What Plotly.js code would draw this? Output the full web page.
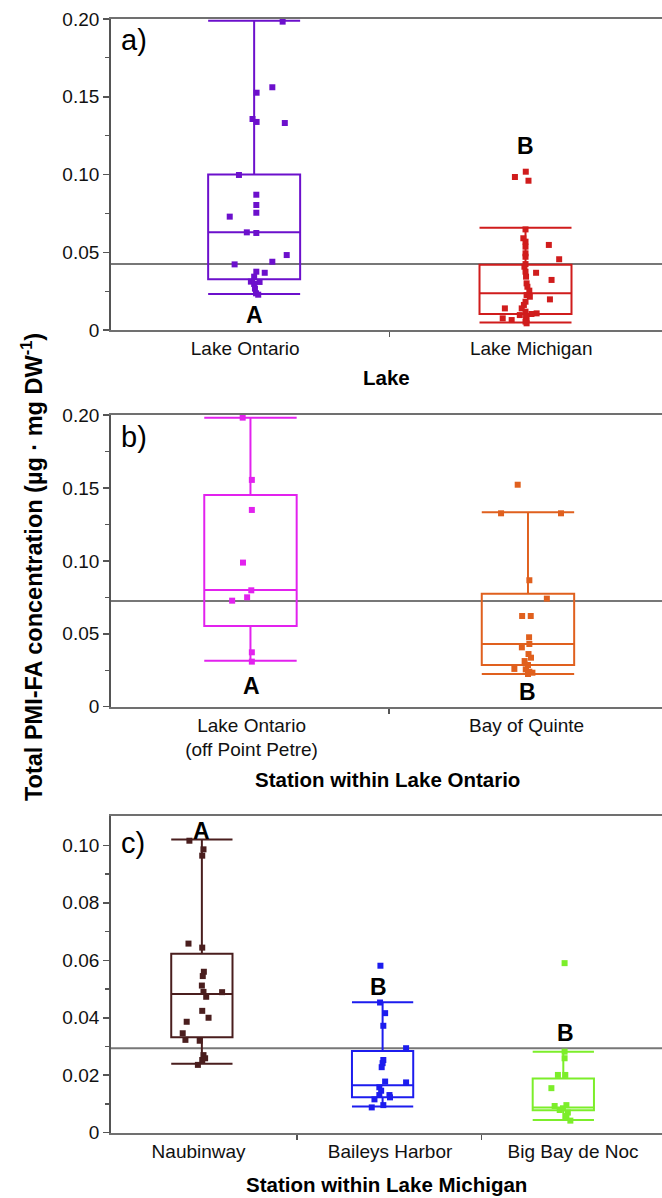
<!DOCTYPE html>
<html><head><meta charset="utf-8">
<script src="https://cdn.plot.ly/plotly-3.0.1.min.js"></script>
<style>html,body{margin:0;padding:0;background:#fff}#chart{width:662px;height:1198px}</style>
</head><body><div id="chart"></div>
<script>
// ---------------- DATA ----------------
// Panel a: by lake
const lakeCategories = ['Lake Ontario', 'Lake Michigan'];
const lakeOntarioValues = [0.1983,0.1561,0.1526,0.1357,0.1338,0.1331,0.0997,0.0870,0.0804,0.0754,0.0729,0.0628,0.0624,0.0482,0.0439,0.0422,0.0375,0.0368,0.0343,0.0311,0.0309,0.0296,0.0266,0.0236,0.0227];
const lakeOntarioJitter = [0.105,0.067,0.009,-0.006,0.009,0.113,-0.056,0.008,0.008,0.008,-0.090,-0.027,0.008,0.120,0.067,-0.072,0.008,0.039,0,-0.012,0.020,0,0.003,0.007,0.015];
const lakeMichiganValues = [0.0984,0.1018,0.0960,0.0647,0.0590,0.0568,0.0547,0.0536,0.0493,0.0471,0.0455,0.0424,0.0407,0.0375,0.0368,0.0343,0.0322,0.0300,0.0278,0.0253,0.0225,0.0214,0.0197,0.0182,0.0161,0.0139,0.0139,0.0118,0.0107,0.0103,0.0096,0.0086,0.0075,0.0064,0.0064,0.0054,0.0043];
const lakeMichiganJitter = [-0.039,0.001,0.011,0,-0.008,0,0.086,0,0,0,0.124,0,-0.004,0,0.039,0.002,0.096,0.004,0.007,0.014,0.004,0.016,0.090,0,-0.006,-0.076,-0.014,0,0.041,0.022,-0.021,0.002,-0.084,-0.051,0.004,0,0.004];
// box stats: [lower whisker, Q1, median, Q3, upper whisker]
const lakeBoxStats = [[0.0232,0.0326,0.0628,0.1000,0.1989],[0.0049,0.0103,0.0236,0.0420,0.0658]];
const lakeLetters = ['A','B'];
const lakeLetterY = [0.0098,0.1183];
const lakeMeanLine = 0.0424;

// Panel b: stations within Lake Ontario
const ontarioStations = ['Lake Ontario<br>(off Point Petre)', 'Bay of Quinte'];
const pointPetreValues = [0.1982,0.1555,0.1349,0.0988,0.0798,0.0750,0.0727,0.0373,0.0309];
const pointPetreJitter = [-0.028,0.005,0.005,-0.027,0.003,-0.012,-0.066,0.005,0.005];
const quinteValues = [0.1522,0.1326,0.1326,0.0867,0.0741,0.0622,0.0622,0.0476,0.0430,0.0407,0.0361,0.0336,0.0313,0.0286,0.0259,0.0256,0.0240,0.0233,0.0224];
const quinteJitter = [-0.037,-0.097,0.119,0.005,0.068,-0.021,0.010,0.004,0.005,-0.022,0.002,0.011,-0.012,0,-0.049,-0.008,0.005,0.016,0];
const ontarioBoxStats = [[0.0315,0.0553,0.0800,0.1452,0.1982],[0.0224,0.0286,0.0430,0.0775,0.1333]];
const ontarioLetters = ['A','B'];
const ontarioLetterY = [0.0142,0.0103];
const ontarioMeanLine = 0.0725;

// Panel c: stations within Lake Michigan
const michiganStations = ['Naubinway', 'Baileys Harbor', 'Big Bay de Noc'];
const naubinwayValues = [0.1016,0.0986,0.0964,0.0658,0.0644,0.0560,0.0545,0.0512,0.0490,0.0489,0.0473,0.0424,0.0400,0.0386,0.0346,0.0323,0.0320,0.0270,0.0259,0.0253,0.0236];
const naubinwayJitter = [-0.069,0.009,0.002,-0.074,0.002,0.011,0.005,0,0.009,0.112,0.024,0.002,0.037,-0.084,-0.106,-0.091,-0.012,0.009,0.018,0.002,-0.022];
const baileysValues = [0.0581,0.0453,0.0416,0.0372,0.0294,0.0253,0.0242,0.0228,0.0178,0.0175,0.0158,0.0146,0.0131,0.0131,0.0116,0.0123,0.0096,0.0088];
const baileysJitter = [-0.012,-0.014,0.014,0.004,0.130,0.004,0,-0.005,0.014,0.130,-0.018,-0.008,0.038,-0.018,-0.045,0.041,0.004,-0.060];
const bigBayValues = [0.0590,0.0282,0.0259,0.0201,0.0201,0.0155,0.0093,0.0096,0.0085,0.0079,0.0070,0.0058,0.0042];
const bigBayJitter = [0.007,0.007,0.007,-0.030,0.011,-0.066,-0.048,0.017,-0.002,-0.020,0.025,0.017,0.039];
const michiganBoxStats = [[0.0240,0.0332,0.0483,0.0623,0.1020],[0.0091,0.0123,0.0165,0.0284,0.0454],[0.0044,0.0078,0.0088,0.0189,0.0282]];
const michiganLetters = ['A','B','B'];
const michiganLetterY = [0.1051,0.0508,0.0348];
const michiganMeanLine = 0.0294;

// ---------------- STYLE ----------------
const W = 662, H = 1198;
const FONT = 'Liberation Sans, Arial, sans-serif';
const px = v => v / W;
const py = v => 1 - v / H;
const colA = ['#6c10cc', '#d01c1c'];
const colB = ['#e222ee', '#e0601e'];
const colC = ['#4a1e1e', '#1c1cee', '#7cee2a'];

function boxTrace(pos, s, color, width, xa, ya) {
  return {type:'box', orientation:'v', x:[pos], lowerfence:[s[0]], q1:[s[1]], median:[s[2]], q3:[s[3]], upperfence:[s[4]],
    width:width, whiskerwidth:1, boxpoints:false, line:{color:color, width:2}, fillcolor:'rgba(0,0,0,0)',
    xaxis:xa, yaxis:ya, hoverinfo:'skip', showlegend:false};
}
function pts(pos, vals, jit, color, xa, ya) {
  return {type:'scatter', mode:'markers', x:vals.map((v,i)=>pos + jit[i]), y:vals,
    marker:{symbol:'square', size:6, color:color, line:{width:0}}, xaxis:xa, yaxis:ya, hoverinfo:'skip', showlegend:false, cliponaxis:false};
}

const traces = [];
const seriesA = [lakeOntarioValues, lakeMichiganValues], jitA = [lakeOntarioJitter, lakeMichiganJitter];
lakeBoxStats.forEach((s,i)=>{ traces.push(boxTrace(i, s, colA[i], 0.339, 'x', 'y')); traces.push(pts(i, seriesA[i], jitA[i], colA[i], 'x', 'y')); });
const seriesB = [pointPetreValues, quinteValues], jitB = [pointPetreJitter, quinteJitter];
ontarioBoxStats.forEach((s,i)=>{ traces.push(boxTrace(i, s, colB[i], 0.333, 'x2', 'y2')); traces.push(pts(i, seriesB[i], jitB[i], colB[i], 'x2', 'y2')); });
const seriesC = [naubinwayValues, baileysValues, bigBayValues], jitC = [naubinwayJitter, baileysJitter, bigBayJitter];
michiganBoxStats.forEach((s,i)=>{ traces.push(boxTrace(i, s, colC[i], 0.339, 'x3', 'y3')); traces.push(pts(i, seriesC[i], jitC[i], colC[i], 'x3', 'y3')); });

const xDomain = [110.6 / W, 1];
function xAxis(anchor, range, labelVals, labels, minorVals) {
  return {anchor:anchor, domain:xDomain, range:range, showline:true, mirror:true, linecolor:'#707070', linewidth:2,
    ticks:'', tickvals:labelVals, ticktext:labels, tickfont:{family:FONT, size:19, color:'#111'},
    minor:{tickmode:'array', tickvals:minorVals, ticks:'outside', ticklen:5, tickwidth:1.5, tickcolor:'#555'},
    showgrid:false, zeroline:false, fixedrange:true};
}
function yAxis(anchor, domain, range, tv, tt, minorVals) {
  return {anchor:anchor, domain:domain, range:range, showline:true, linecolor:'#555', linewidth:1.5,
    ticks:'outside', ticklen:6, tickwidth:1.5, tickcolor:'#555', tickvals:tv, ticktext:tt,
    tickfont:{family:FONT, size:19, color:'#111'},
    minor:{tickmode:'array', tickvals:minorVals, ticks:'outside', ticklen:4, tickwidth:1.2, tickcolor:'#555'},
    showgrid:false, zeroline:false, fixedrange:true};
}

const annotations = [];
function letterAnn(xref, yref, xs, ys, texts) {
  texts.forEach((t,i)=>annotations.push({xref:xref, yref:yref, x:xs[i], y:ys[i], text:t, showarrow:false,
    font:{family:FONT, size:23, color:'#000', weight:'bold'}, xanchor:'center', yanchor:'middle'}));
}
letterAnn('x', 'y', [0, 1], lakeLetterY, lakeLetters);
letterAnn('x2', 'y2', [0.005, 1], ontarioLetterY, ontarioLetters);
letterAnn('x3', 'y3', [0, 0.98, 2.01], michiganLetterY, michiganLetters);

function paperText(text, x, y, size, bold, extra) {
  annotations.push(Object.assign({xref:'paper', yref:'paper', x:x, y:y, text:text, showarrow:false,
    font:{family:FONT, size:size, color:'#000', weight: bold ? 'bold' : 'normal'}, xanchor:'center', yanchor:'middle'}, extra||{}));
}
paperText('a)', px(119), py(40.5), 29, false, {xanchor:'left'});
paperText('b)', px(119), py(436.7), 29, false, {xanchor:'left'});
paperText('c)', px(119), py(842.5), 29, false, {xanchor:'left'});
paperText('Lake', px(386.7), py(377.5), 20.5, true);
paperText('Station within Lake Ontario', px(387), py(779), 20.5, true);
paperText('Station within Lake Michigan', px(386.3), py(1184), 20.5, true);
paperText('Total PMI-FA concentration (µg · mg DW<sup>-1</sup>)', px(32), py(567), 23.5, true, {textangle:-90});

const shapes = [
  {type:'line', xref:'x domain', yref:'y', x0:0, x1:1, y0:lakeMeanLine, y1:lakeMeanLine, line:{color:'#777', width:2}, layer:'below'},
  {type:'line', xref:'x2 domain', yref:'y2', x0:0, x1:1, y0:ontarioMeanLine, y1:ontarioMeanLine, line:{color:'#777', width:2}, layer:'below'},
  {type:'line', xref:'x3 domain', yref:'y3', x0:0, x1:1, y0:michiganMeanLine, y1:michiganMeanLine, line:{color:'#777', width:2}, layer:'below'}
];

const layout = {
  width:W, height:H, margin:{l:0, r:0, t:0, b:0}, paper_bgcolor:'#fff', plot_bgcolor:'#fff', showlegend:false,
  font:{family:FONT, color:'#111'},
  xaxis: xAxis('y', [-0.529, 1.503], [-0.033, 1.021], lakeCategories, [0.498]),
  yaxis: yAxis('x', [py(330), py(19)], [0, 0.2], [0,0.05,0.10,0.15,0.20], ['0','0.05','0.10','0.15','0.20'], [0.025,0.075,0.125,0.175]),
  xaxis2: xAxis('y2', [-0.504, 1.483], [0.004, 0.995], ontarioStations, [0.5]),
  yaxis2: yAxis('x2', [py(706.7), py(415)], [0, 0.2], [0,0.05,0.10,0.15,0.20], ['0','0.05','0.10','0.15','0.20'], [0.025,0.075,0.125,0.175]),
  xaxis3: xAxis('y3', [-0.505, 2.546], [-0.018, 1.041, 2.054], michiganStations, [0.527, 1.546]),
  yaxis3: yAxis('x3', [py(1132.7), py(816)], [0, 0.1102], [0,0.02,0.04,0.06,0.08,0.10], ['0','0.02','0.04','0.06','0.08','0.10'], [0.01,0.03,0.05,0.07,0.09]),
  annotations: annotations, shapes: shapes
};

Plotly.newPlot('chart', traces, layout, {displayModeBar:false, staticPlot:true});
</script></body></html>
